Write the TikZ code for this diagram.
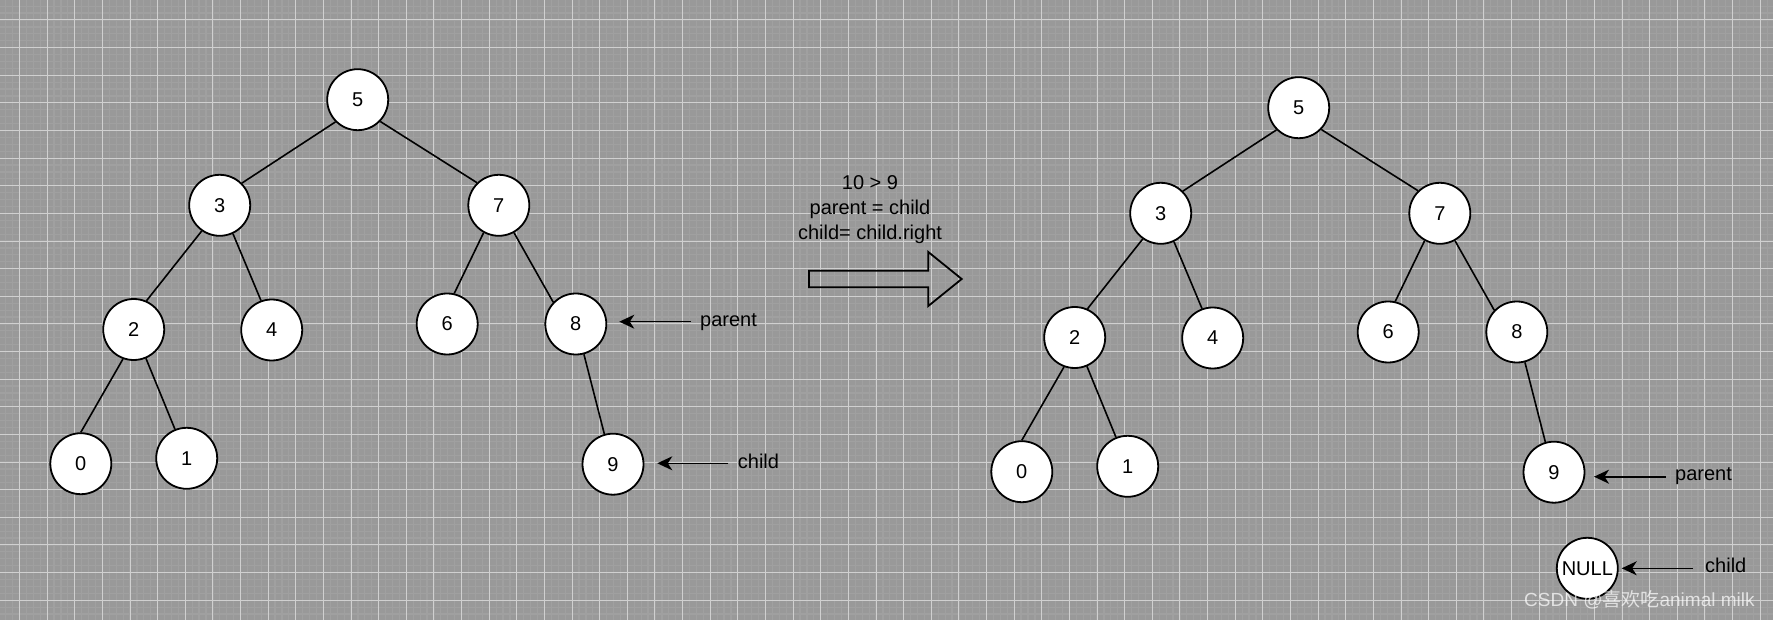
\documentclass[tikz,border=0pt]{standalone}
\usepackage{fontspec}
\setmainfont{Liberation Sans}
\newfontfamily\cjkfont{Noto Sans CJK SC}
\usetikzlibrary{arrows.meta}
\definecolor{bggray}{RGB}{153,153,153}
\definecolor{minorgrid}{RGB}{160,160,160}
\definecolor{majorgrid}{RGB}{208,208,208}
\tikzset{
  nd/.style={circle, draw=black, fill=white, line width=1.8pt, minimum size=61pt, inner sep=0pt, font=\fontsize{20}{24}\selectfont},
  edge/.style={draw=black, line width=1.6pt},
  ptr/.style={draw=black, line width=1.6pt, -{Stealth[length=15pt,width=14pt,inset=4.5pt]}},
  lbl/.style={anchor=base west, inner sep=0pt, font=\fontsize{20}{24}\selectfont},
  bigarrow/.style={draw=black, line width=1.8pt, line join=miter},
}
\newcommand\bsttree[1]{%
  \node[nd] (#1n5) at (357.7,99.7) {5};
  \node[nd] (#1n3) at (219.7,205.3) {3};
  \node[nd] (#1n7) at (498.8,205.3) {7};
  \node[nd] (#1n2) at (133.7,329.5) {2};
  \node[nd] (#1n4) at (271.7,330) {4};
  \node[nd] (#1n6) at (447.2,324) {6};
  \node[nd] (#1n8) at (575.8,324) {8};
  \node[nd] (#1n0) at (80.8,463.7) {0};
  \node[nd] (#1n1) at (186.7,458.3) {1};
  \node[nd] (#1n9) at (613,464.2) {9};
  \draw[edge] (#1n5.225) -- (#1n3.45);
  \draw[edge] (#1n5.316) -- (#1n7.134);
  \draw[edge] (#1n3.235) -- (#1n2.66);
  \draw[edge] (#1n3.295) -- (#1n4.110);
  \draw[edge] (#1n7.241) -- (#1n6.77);
  \draw[edge] (#1n7.299) -- (#1n8.136);
  \draw[edge] (#1n2.250) -- (#1n0.90);
  \draw[edge] (#1n2.293) -- (#1n1.112);
  \draw[edge] (#1n8.285) -- (#1n9.106);
}
\begin{document}
\begin{tikzpicture}[x=1pt,y=-1pt]
\useasboundingbox (0,0) rectangle (1773,620);
\fill[bggray] (0,0) rectangle (1773,620);
\begin{scope}
  \clip (0,0) rectangle (1773,620);
  \foreach \i in {-3,...,255} \draw[minorgrid, line width=1.2pt] ({19.5+6.9075*\i},0) -- ({19.5+6.9075*\i},620);
  \foreach \j in {-3,...,88} \draw[minorgrid, line width=1.2pt] (0,{20+6.9075*\j}) -- (1773,{20+6.9075*\j});
  \foreach \i in {0,...,63} \draw[majorgrid, line width=1pt] ({19.5+27.63*\i},0) -- ({19.5+27.63*\i},620);
  \foreach \j in {0,...,21} \draw[majorgrid, line width=1pt] (0,{20+27.63*\j}) -- (1773,{20+27.63*\j});
\end{scope}

% left tree
\bsttree{L}
\coordinate (Lpt) at (690.7,321.7);
\coordinate (Lph) at (619.3,321.7);
\draw[ptr] (Lpt) -- (Lph);
\node[lbl] (Lplbl) at (700,326.7) {parent};
\coordinate (Lct) at (728.3,463.3);
\coordinate (Lch) at (657.3,463.3);
\draw[ptr] (Lct) -- (Lch);
\node[lbl] (Lclbl) at (737.7,468.3) {child};

% middle text and arrow
\node[align=center, inner sep=0pt, font=\fontsize{20}{24.7}\selectfont] (cond) at (870,209.5) {10 \textgreater{} 9\\parent = child\\child= child.right};
\draw[bigarrow] (809,270.7) -- (928.3,270.7) -- (928.3,252) -- (961.7,279) -- (928.3,306) -- (928.3,287.3) -- (809,287.3) -- cycle;

% right tree
\begin{scope}[shift={(941,8)}]
\bsttree{R}
\end{scope}
\coordinate (Rpt) at (1665.7,476.7);
\coordinate (Rph) at (1594,476.7);
\draw[ptr] (Rpt) -- (Rph);
\node[lbl] (Rplbl) at (1675,480.7) {parent};
\node[nd] (null) at (1587.3,568.3) {NULL};
\coordinate (Rct) at (1693,568.3);
\coordinate (Rch) at (1621.7,568.3);
\draw[ptr] (Rct) -- (Rch);
\node[lbl] (Rclbl) at (1705,572.7) {child};

% watermark
\node[anchor=base west, inner sep=0pt, text=white, text opacity=0.7, font=\fontsize{19}{22}\selectfont] (wm) at (1524,606.5) {CSDN @{\cjkfont 喜欢吃}animal milk};
\end{tikzpicture}
\end{document}
